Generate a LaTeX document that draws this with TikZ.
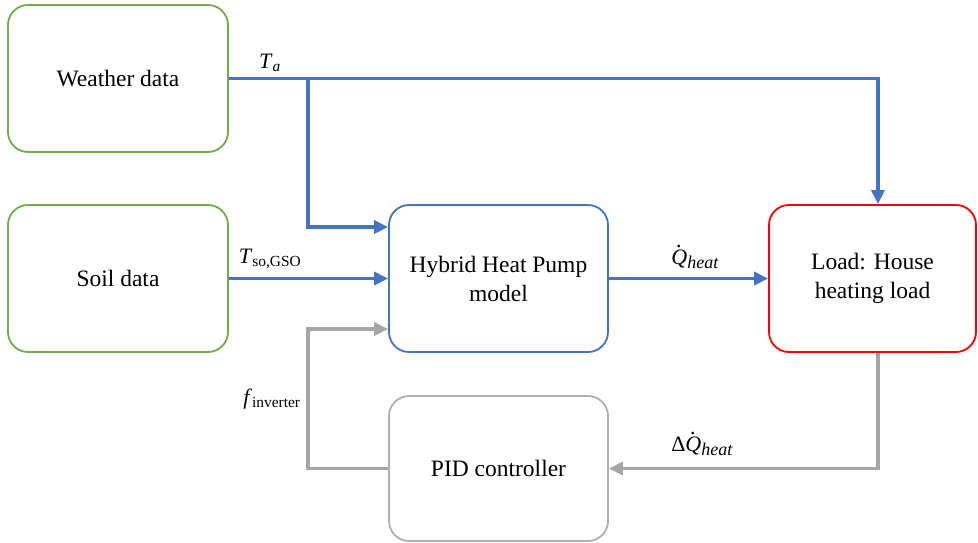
\documentclass[tikz,border=0pt]{standalone}
\usepackage{fontspec}
\setmainfont{Liberation Serif}
\usetikzlibrary{arrows.meta}
\definecolor{cgreen}{HTML}{70AD47}
\definecolor{cblue}{HTML}{4472C4}
\definecolor{cred}{HTML}{FF0000}
\definecolor{cgray}{HTML}{A5A5A5}
\definecolor{cgrayb}{HTML}{AFAFAF}
\newcommand\myqdot{\ooalign{\textit{Q}\cr\hidewidth\raisebox{0.78em}{\textit{.}}\hidewidth\cr}}
\newcommand\myheat{\raisebox{-4pt}{\fontsize{18}{18}\selectfont\textit{heat}}}
\begin{document}
\begin{tikzpicture}[x=1pt,y=-1pt,
  box/.style={draw,line width=1.8pt,rounded corners=20pt,fill=white,align=center,
    inner sep=0pt,font=\fontsize{23.5}{27}\selectfont},
  bluearrow/.style={draw=cblue,line width=3.5pt,-{Triangle[length=14pt,width=13pt]}},
  grayarrow/.style={draw=cgray,line width=3.8pt,-{Triangle[length=14pt,width=13pt]}},
  lbl/.style={font=\fontsize{22}{26}\selectfont,inner sep=0pt}]
\useasboundingbox (0,0) rectangle (978,542);
\node[box,draw=cgreen,minimum width=220pt,minimum height=147pt] (weather) at (118,78.5) {Weather data};
\node[box,draw=cgreen,minimum width=220pt,minimum height=147pt] (soil) at (118,278.5) {Soil data};
\node[box,draw=cblue,minimum width=219pt,minimum height=147pt] (hhp) at (498.5,278.5) {Hybrid Heat Pump\\[2pt]model};
\node[box,draw=cred,minimum width=207pt,minimum height=147pt] (load) at (872.5,278.5) {Load: House\\[2pt]heating load};
\node[box,draw=cgrayb,minimum width=219pt,minimum height=145pt] (pid) at (498.5,468.5) {PID controller};
\coordinate (c1) at (878,78.5);
\coordinate (br) at (308,78.5);
\coordinate (br2) at (308,227);
\coordinate (fb) at (308,329);
\draw[bluearrow] (weather.east) -| (load.north -| c1);
\draw[bluearrow] (br) -- (br2) -- (hhp.west |- br2);
\draw[bluearrow] (soil.east) -- (hhp.west);
\draw[bluearrow] (hhp.east) -- (load.west);
\draw[grayarrow] (load.south -| c1) |- (pid.east);
\draw[grayarrow] (pid.west) -| (fb) -- (hhp.west |- fb);
\node[lbl] (lta) at (270,63) {\textit{T}\textsubscript{\textit{a}}};
\node[lbl] (lts) at (270,259) {\textit{T}\textsubscript{so,GSO}};
\node[lbl] (lq) at (695,259) {\myqdot\myheat};
\node[lbl] (ldq) at (702,446) {Δ\myqdot\myheat};
\node[lbl] (lf) at (272,399) {\textit{f}\textsubscript{inverter}};
\end{tikzpicture}
\end{document}
